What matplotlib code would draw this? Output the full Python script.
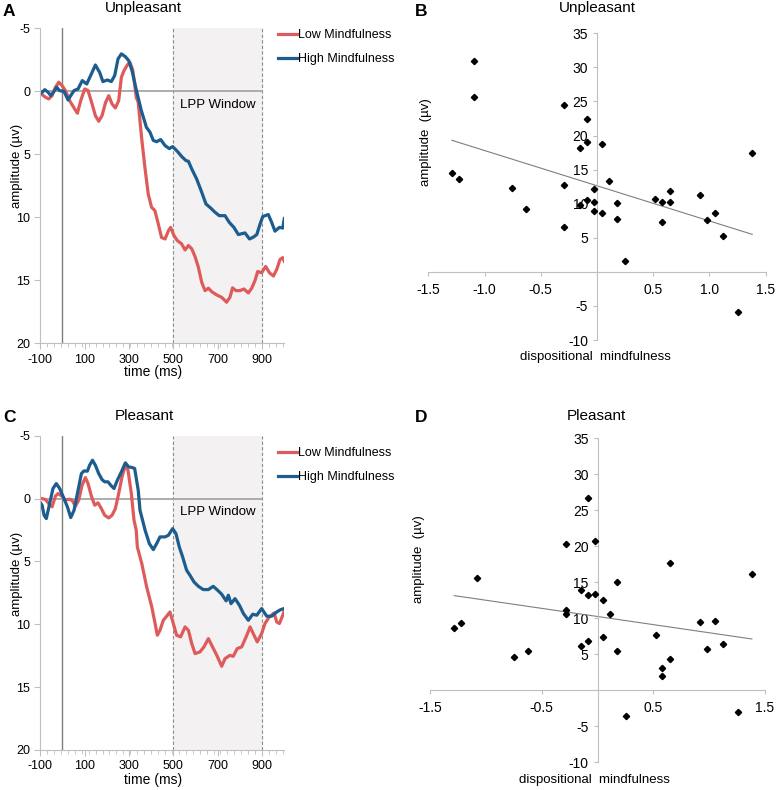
import numpy as np
import matplotlib
matplotlib.use("Agg")
import matplotlib.pyplot as plt
from matplotlib.lines import Line2D
from matplotlib.ticker import MultipleLocator, FixedLocator

plt.rcParams['font.family'] = ['Liberation Sans', 'DejaVu Sans']
plt.rcParams['axes.unicode_minus'] = False

# -----------------------------
# ERP waveforms
# -----------------------------
# A: unpleasant
a_low_t = [-100, -91, -76, -61, -46, -31, -16, -1, 14, 33, 53, 68, 83, 101, 116, 134, 149, 164,
           179, 195, 209, 224, 239, 254, 266, 278, 293, 305, 318, 333, 342, 357, 372, 387, 402,
           417, 432, 447, 463, 478, 488, 503, 518, 537, 553, 568, 583, 598, 613, 628, 643, 658,
           673, 695, 718, 740, 755, 767, 782, 800, 818, 838, 853, 868, 880, 898, 916, 933, 951,
           966, 981, 993, 1000]
a_low_v = [0.1, 0.26, 0.47, 0.61, 0.34, -0.32, -0.72, -0.45, -0.06, 0.74, 1.32, 1.74, 0.74, -0.19,
           -0.06, 1.0, 1.93, 2.38, 1.93, 0.88, 0.35, 1.0, 1.32, 0.74, -1.11, -1.64, -2.09, -2.3,
           -1.64, 0.48, 0.87, 3.65, 6.03, 8.15, 9.2, 9.47, 10.5, 11.6, 11.72, 11.06, 10.8, 11.45,
           11.85, 12.1, 12.59, 12.24, 12.5, 13.12, 13.97, 15.16, 15.82, 15.63, 15.9, 16.16, 16.35,
           16.74, 16.35, 15.6, 15.82, 15.82, 15.69, 16.0, 15.63, 15.02, 14.3, 14.4, 13.9, 14.4,
           14.66, 14.13, 13.34, 13.2, 13.5]
a_high_t = [-100, -91, -79, -64, -52, -37, -25, -13, 8, 26, 38, 53, 71, 90, 110, 131, 149, 168,
            183, 203, 221, 236, 251, 266, 284, 299, 314, 334, 356, 379, 395, 410, 425, 443, 463,
            482, 497, 518, 538, 557, 568, 583, 605, 628, 647, 668, 688, 707, 733, 752, 773, 793,
            804, 823, 843, 860, 876, 891, 903, 928, 943, 958, 978, 993, 1000]
a_high_v = [0.2, 0.08, -0.13, 0.08, 0.34, 0.0, -0.32, -0.06, 0.02, 0.69, 0.34, -0.06, -0.19, -0.85,
            -0.58, -1.38, -2.09, -1.51, -0.77, -0.9, -0.77, -1.25, -2.57, -2.97, -2.75, -2.44,
            -1.64, -0.06, 1.53, 2.86, 3.25, 3.9, 4.0, 3.83, 4.31, 4.55, 4.39, 4.76, 5.18, 5.5,
            5.55, 6.16, 6.95, 8.01, 8.94, 9.26, 9.6, 9.87, 9.87, 10.4, 10.8, 11.37, 11.32, 11.24,
            11.72, 11.58, 11.37, 10.53, 9.94, 9.78, 10.4, 11.1, 10.8, 10.85, 10.1]

# C: pleasant
c_low_t = [-100, -91, -76, -61, -46, -31, -19, -1, 14, 29, 44, 59, 74, 89, 104, 116, 131, 146, 161,
           176, 191, 209, 224, 239, 254, 269, 284, 296, 311, 323, 333, 338, 358, 380, 403, 418,
           428, 440, 455, 470, 485, 500, 515, 533, 553, 568, 583, 598, 620, 638, 658, 673, 696,
           718, 733, 755, 770, 788, 808, 828, 846, 860, 878, 898, 913, 932, 954, 966, 978, 993,
           1000]
c_low_v = [0.0, 0.0, 0.08, 0.4, 0.66, -0.19, -0.4, -0.19, 0.13, 0.05, 0.13, 0.61, 0.13, -1.06,
           -1.67, -1.19, -0.19, 0.53, 0.34, 0.8, 1.33, 1.54, 1.33, 0.8, -0.4, -1.72, -2.65, -2.25,
           -0.4, 1.72, 2.52, 3.85, 5.17, 7.03, 8.62, 9.94, 10.87, 10.48, 9.68, 9.36, 9.02, 9.94,
           10.87, 11.0, 10.21, 10.48, 11.53, 12.33, 12.2, 11.8, 11.14, 11.67, 12.47, 13.34, 12.73,
           12.47, 12.55, 11.93, 11.8, 11.0, 10.21, 10.74, 11.4, 10.74, 9.94, 9.42, 9.1, 9.82,
           9.94, 9.28, 8.9]
c_high_t = [-100, -91, -82, -72, -57, -42, -27, -12, 3, 23, 38, 53, 68, 86, 98, 113, 123, 136, 149,
            164, 179, 191, 206, 218, 233, 248, 266, 284, 299, 314, 326, 342, 350, 373, 392, 410,
            425, 440, 463, 478, 497, 512, 527, 542, 560, 575, 593, 613, 635, 658, 680, 700, 718,
            738, 748, 760, 778, 798, 816, 838, 858, 876, 898, 921, 943, 966, 984, 999]
c_high_v = [0.3, 0.53, 1.33, 1.59, 0.4, -0.8, -1.19, -0.8, -0.19, 0.66, 1.51, 0.93, -0.4, -1.99,
            -2.2, -2.18, -2.65, -3.05, -2.65, -1.99, -1.51, -1.33, -1.33, -1.06, -0.8, -1.46,
            -2.12, -2.84, -2.52, -2.47, -2.39, -0.66, 0.93, 2.52, 3.58, 4.06, 3.58, 3.05, 3.05,
            2.92, 2.39, 2.79, 3.85, 4.64, 5.7, 6.1, 6.63, 6.98, 7.24, 7.24, 6.98, 7.3, 7.61, 8.14,
            7.69, 8.36, 7.96, 8.49, 9.15, 9.68, 9.2, 9.28, 8.75, 9.36, 9.36, 9.02, 8.83, 8.75]

# -----------------------------
# Scatter data (dispositional mindfulness vs LPP amplitude)
# -----------------------------
b_x = [-1.09, -1.09, -1.29, -1.23, -0.755, -0.63, -0.29, -0.29, -0.29, -0.155, -0.155, -0.09,
       -0.09, -0.09, -0.027, -0.027, -0.027, 0.045, 0.045, 0.11, 0.175, 0.175, 0.247, 0.517,
       0.577, 0.577, 0.648, 0.648, 0.918, 0.978, 1.05, 1.117, 1.25, 1.38]
b_y = [31.0, 25.6, 14.5, 13.6, 12.3, 9.2, 24.5, 12.7, 6.6, 18.1, 9.8, 22.4, 19.0, 10.5, 12.2,
       10.3, 9.0, 18.7, 8.6, 13.4, 10.1, 7.7, 1.6, 10.7, 10.2, 7.3, 11.9, 10.3, 11.3, 7.6, 8.7,
       5.3, -5.9, 17.5]
# linear trend line ends as drawn in the figure
b_trend_x = [-1.29, 1.38]
b_trend_y = [19.3, 5.5]

d_x = [-1.283, -1.224, -1.081, -0.752, -0.624, -0.278, -0.278, -0.278, -0.146, -0.146, -0.081,
       -0.081, -0.081, -0.018, -0.018, 0.051, 0.051, 0.116, 0.179, 0.179, 0.251, 0.52, 0.582,
       0.582, 0.651, 0.651, 0.919, 0.982, 1.054, 1.12, 1.254, 1.382]
d_y = [8.7, 9.35, 15.6, 4.6, 5.5, 20.3, 11.1, 10.6, 14.0, 6.2, 26.7, 13.3, 6.8, 20.7, 13.4, 12.5,
       7.4, 10.6, 15.0, 5.4, -3.6, 7.7, 3.15, 2.0, 17.7, 4.3, 9.5, 5.8, 9.6, 6.5, -3.0, 16.1]
d_trend_x = [-1.283, 1.382]
d_trend_y = [13.15, 7.13]

RED = '#DE5B5B'
BLUE = '#1D5C8F'
GRID_GREY = '#BFBFBF'

W, H = 777, 790
fig = plt.figure(figsize=(W / 100, H / 100), dpi=100)


def box(left, top, right, bottom):
    return [left / W, 1 - bottom / H, (right - left) / W, (bottom - top) / H]


def ftext(x, y, s, **kw):
    fig.text(x / W, 1 - y / H, s, **kw)


def erp_panel(rect, low_t, low_v, high_t, high_v):
    ax = fig.add_axes(rect)
    ax.axvspan(500, 900, color='#F3F1F2', zorder=0)
    ax.axvline(500, color='#8C8C8C', ls=(0, (3, 2)), lw=0.8)
    ax.axvline(900, color='#8C8C8C', ls=(0, (3, 2)), lw=0.8)
    ax.axvline(0, color='#7F7F7F', lw=1.0)
    ax.plot([-100, 900], [0, 0], color='#A6A6A6', lw=1.3)
    ax.plot(low_t, low_v, color=RED, lw=2.3)
    ax.plot(high_t, high_v, color=BLUE, lw=2.3)
    ax.text(700, 1.1, 'LPP Window', ha='center', va='center', fontsize=9.5)
    ax.set_xlim(-100, 1000)
    ax.set_ylim(20, -5)
    ax.xaxis.set_major_locator(FixedLocator([-100, 100, 300, 500, 700, 900]))
    ax.xaxis.set_minor_locator(FixedLocator(np.arange(-100, 1001, 31.25)))
    ax.yaxis.set_major_locator(MultipleLocator(5))
    for s in ['top', 'right']:
        ax.spines[s].set_visible(False)
    for s in ['left', 'bottom']:
        ax.spines[s].set_color(GRID_GREY)
    ax.tick_params(which='both', color=GRID_GREY, labelsize=9, direction='out')
    ax.tick_params(which='major', length=4)
    ax.tick_params(which='minor', length=3)
    ax.tick_params(axis='y', which='minor', left=False)
    ax.tick_params(axis='y', pad=3)
    ax.set_facecolor('none')
    handles = [Line2D([], [], color=RED, lw=2.3), Line2D([], [], color=BLUE, lw=2.3)]
    return ax, handles


def scatter_panel(rect, xs, ys, tx, ty, xticks):
    ax = fig.add_axes(rect)
    ax.plot(xs, ys, 'D', color='black', markersize=3.2, zorder=3)
    ax.plot(tx, ty, color='#7F7F7F', lw=0.8)
    ax.set_xlim(-1.5, 1.5)
    ax.set_ylim(-10, 35)
    ax.spines['left'].set_position(('data', 0))
    ax.spines['bottom'].set_position(('data', 0))
    for s in ['top', 'right']:
        ax.spines[s].set_visible(False)
    for s in ['left', 'bottom']:
        ax.spines[s].set_color(GRID_GREY)
    ax.set_xticks(xticks)
    ax.set_xticklabels(['' if abs(v) < 1e-9 else f'{v:.1f}' for v in xticks])
    yt = np.arange(-10, 36, 5)
    ax.set_yticks(yt)
    ax.set_yticklabels(['' if v == 0 else str(v) for v in yt])
    ax.tick_params(color=GRID_GREY, labelsize=10, length=3)
    ax.tick_params(axis='x', pad=5)
    ax.set_facecolor('none')
    return ax


# panel A
axA, handles = erp_panel(box(40.1, 28.3, 284.3, 343.3), a_low_t, a_low_v, a_high_t, a_high_v)
axA.legend(handles, ['Low Mindfulness', 'High Mindfulness'], loc='upper left',
           bbox_to_anchor=(278 / W, 1 - 29 / H), bbox_transform=fig.transFigure,
           frameon=False, fontsize=9, handlelength=1.5, handletextpad=0.1,
           borderpad=0, borderaxespad=0, labelspacing=0.95)

# panel C
axC, handles = erp_panel(box(40.1, 435.7, 284.3, 750.0), c_low_t, c_low_v, c_high_t, c_high_v)
axC.legend(handles, ['Low Mindfulness', 'High Mindfulness'], loc='upper left',
           bbox_to_anchor=(278 / W, 1 - 447 / H), bbox_transform=fig.transFigure,
           frameon=False, fontsize=9, handlelength=1.5, handletextpad=0.1,
           borderpad=0, borderaxespad=0, labelspacing=0.95)

# panel B
axB = scatter_panel(box(428.3, 33.3, 765.7, 340.0), b_x, b_y, b_trend_x, b_trend_y,
                    [-1.5, -1.0, -0.5, 0.0, 0.5, 1.0, 1.5])
# panel D
axD = scatter_panel(box(430.0, 438.3, 765.0, 762.3), d_x, d_y, d_trend_x, d_trend_y,
                    [-1.5, -0.5, 0.5, 1.5])

# ERP axis labels
ftext(17, 166, 'amplitude (µv)', ha='center', va='center', rotation=90, fontsize=9.5)
ftext(153, 372, 'time (ms)', ha='center', va='center', fontsize=10)
ftext(17, 574, 'amplitude (µv)', ha='center', va='center', rotation=90, fontsize=9.5)
ftext(153, 780, 'time (ms)', ha='center', va='center', fontsize=10)

# titles and panel letters
ftext(143, 8, 'Unpleasant', ha='center', va='center', fontsize=11)
ftext(144, 416, 'Pleasant', ha='center', va='center', fontsize=11)
ftext(597, 8, 'Unpleasant', ha='center', va='center', fontsize=11)
ftext(596, 416, 'Pleasant', ha='center', va='center', fontsize=11)
ftext(3, 11, 'A', ha='left', va='center', fontsize=12.5, fontweight='bold')
ftext(415, 11, 'B', ha='left', va='center', fontsize=12.5, fontweight='bold')
ftext(3, 417, 'C', ha='left', va='center', fontsize=12.5, fontweight='bold')
ftext(415, 417, 'D', ha='left', va='center', fontsize=12.5, fontweight='bold')

# scatter axis labels (placed like the original, outside the centred spines)
ftext(426, 142, 'amplitude  (µv)', ha='center', va='center', rotation=90, fontsize=9.5)
ftext(595, 357, 'dispositional  mindfulness', ha='center', va='center', fontsize=9.5)
ftext(419, 559, 'amplitude  (µv)', ha='center', va='center', rotation=90, fontsize=9.5)
ftext(594, 780, 'dispositional  mindfulness', ha='center', va='center', fontsize=9.5)

fig.savefig('out.png', dpi=100)
